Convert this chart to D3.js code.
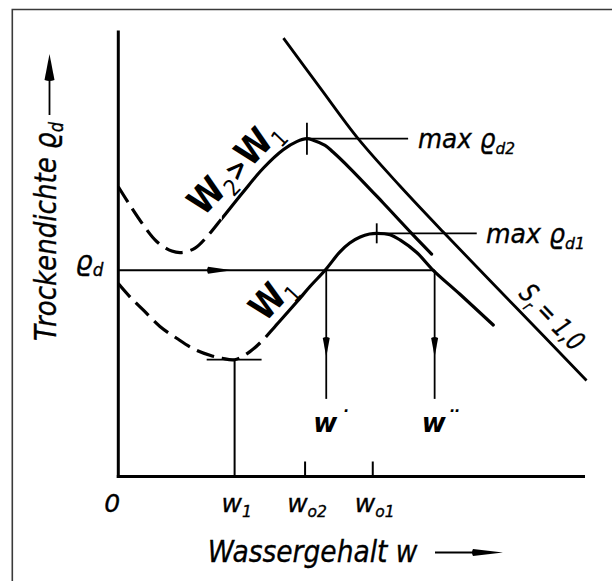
<!DOCTYPE html>
<html>
<head>
<meta charset="utf-8">
<script src="https://cdn.jsdelivr.net/npm/d3@7"></script>
<style>
  html, body { margin: 0; padding: 0; background: #fff; }
  svg { display: block; }
  text { font-family: "DejaVu Sans", "Liberation Sans", sans-serif; fill: #000; }
</style>
</head>
<body>
<svg id="chart" width="612" height="581"></svg>
<script>
// ---------------- data (w in %, rho_d in g/cm3) ----------------
// Proctor curve for the higher compaction work W2 > W1
const curveW2 = [[0,1.792],[0.50,1.767],[1.08,1.740],[1.65,1.718],[2.30,1.705],[2.73,1.703],[3.30,1.709],
  [3.80,1.724],[4.45,1.749],[5.37,1.785],[6.23,1.817],[7.09,1.842],[7.67,1.853],[8.11,1.857],[8.38,1.855],
  [8.89,1.848],[9.23,1.839],[9.96,1.817],[11.39,1.770],[12.61,1.729],[13.47,1.701]];
// Proctor curve for compaction work W1
const curveW1 = [[0,1.661],[0.50,1.643],[1.08,1.625],[1.79,1.603],[2.51,1.587],[3.22,1.573],[3.94,1.564],
  [4.46,1.560],[5.00,1.558],[5.66,1.569],[6.23,1.585],[6.74,1.603],[7.67,1.636],[8.24,1.657],[8.89,1.679],
  [9.53,1.704],[9.95,1.716],[10.40,1.724],[10.80,1.728],[11.11,1.729],[11.68,1.727],[12.11,1.720],[12.83,1.703],
  [13.54,1.679],[14.69,1.6465],[16.12,1.605]];
// saturation line S_r = 1.0
const saturationLine = [[7.10,1.993],[8.67,1.926],[10.31,1.857],[12.11,1.793],[13.96,1.731],[17.06,1.630],[20.13,1.530]];
// where the dashed (uncertain) part of each curve ends
const dashEndW2 = 4.45;
const dashEndW1 = 6.74;
// characteristic values
const peaks = [[8.11, 1.857, 12.46, "2"], [11.11, 1.729, 15.41, "1"]]; // w_opt, max rho_d, end of leader, index
const rhoD = 1.679;               // chosen dry density
const wPrime = [8.94, 13.60];     // w' and w'' at rhoD
const dropEnd = 1.505;            // lower end of the w'/w'' arrows
const dropTip = 1.5617;           // arrow tip position on the drop lines
const rhoArrowTip = 4.89;         // arrow tip on the rhoD line
const minPoint = [5.00, 1.558];   // minimum of the W1 curve (w1)
const minMarker = [3.80, 6.16];   // extent of the horizontal mark at the minimum
const xTickValues = [0, 5.00, 8.03, 10.94];
const xTickLabels = [["0", ""], ["w", "1"], ["w", "o2"], ["w", "o1"]];
const wPrimeLabels = [["w", "˙"], ["w", "¨"]];

// ---------------- scales ----------------
const svg = d3.select("#chart");
const x = d3.scaleLinear().domain([0, 20]).range([118.3, 583.5]);
const y = d3.scaleLinear().domain([1.40, 2.00]).range([476.5, 33]);

// ---------------- helpers ----------------
function rich(t, parts, size) {
  t.text(null);
  let shifted = 0;
  parts.forEach(p => {
    if (!p.t) return;
    const ts = t.append("tspan").text(p.t);
    let shift = 0;
    if (p.sub) shift = size * 0.22;
    if (p.sup) shift = -size * (p.supShift || 0.1);
    ts.attr("dy", shift - shifted);
    shifted = shift;
    if (p.sub) ts.attr("font-size", size * 0.62);
    if (p.size) ts.attr("font-size", p.size);
    if (p.weight) ts.attr("font-weight", p.weight);
  });
}
function label(o) {
  const g = svg.append("g").attr("transform", `translate(${o.x},${o.y}) rotate(${o.rot || 0})`);
  const t = g.append("text")
    .attr("text-anchor", o.anchor || "start")
    .attr("font-size", o.size)
    .attr("font-style", o.italic === false ? "normal" : "italic")
    .attr("font-weight", o.weight || "normal")
    .attr("stroke", "#000").attr("stroke-width", o.stroke == null ? 0.35 : o.stroke);
  rich(t, o.parts, o.size);
  if (o.width) {
    const w0 = t.node().getComputedTextLength();
    t.attr("transform", `scale(${o.width / w0},1)`);
  }
  return t;
}
function arrowHead(tx, ty, ang, len, hw) {
  svg.append("path")
    .attr("d", `M0,0L${-len},${-hw}Q${-len - 2},0 ${-len},${hw}Z`)
    .attr("transform", `translate(${tx},${ty}) rotate(${ang})`)
    .attr("fill", "#000");
}
function seg(x1, y1, x2, y2, w) {
  svg.append("line").attr("x1", x1).attr("y1", y1).attr("x2", x2).attr("y2", y2)
    .attr("stroke", "#000").attr("stroke-width", w);
}

// ---------------- frame ----------------
svg.append("path").attr("d", "M12.3,581V9.5H612").attr("fill", "none")
  .attr("stroke", "#3a3a3a").attr("stroke-width", 1.6);

// ---------------- axes ----------------
const gx = svg.append("g").attr("transform", `translate(0,${y(1.40)})`)
  .call(d3.axisBottom(x).tickValues(xTickValues).tickSizeInner(-15).tickSizeOuter(0).offset(0));
gx.select(".domain").attr("stroke", "#000").attr("stroke-width", 3).attr("stroke-linecap", "square");
gx.selectAll(".tick line").attr("stroke", "#000").attr("stroke-width", 2)
  .attr("display", (d, i) => i < 2 ? "none" : null);
gx.selectAll(".tick text")
  .attr("y", 35).attr("dy", null).attr("fill", "#000")
  .attr("font-size", 25).attr("font-style", "italic")
  .attr("font-family", "DejaVu Sans, sans-serif")
  .attr("stroke", "#000").attr("stroke-width", 0.35)
  .attr("transform", (d, i) => `translate(${i === 0 ? -6 : 2},0)`)
  .each(function (d, i) {
    rich(d3.select(this), [{ t: xTickLabels[i][0] }, { t: xTickLabels[i][1], sub: true }], 25);
  });

const gy = svg.append("g").attr("transform", `translate(${x(0)},0)`)
  .call(d3.axisLeft(y).tickValues([rhoD]).tickSizeInner(0).tickSizeOuter(0).tickPadding(15).offset(0));
gy.select(".domain").attr("stroke", "#000").attr("stroke-width", 3).attr("stroke-linecap", "square")
  .attr("d", `M0,${y(1.40)}V32`);
gy.selectAll(".tick line").remove();
gy.selectAll(".tick text")
  .attr("dy", 6).attr("fill", "#000").attr("font-size", 27).attr("font-style", "italic")
  .attr("font-family", "DejaVu Sans, sans-serif")
  .attr("stroke", "#000").attr("stroke-width", 0.35)
  .each(function () { rich(d3.select(this), [{ t: "ϱ" }, { t: "d", sub: true }], 27); });

// ---------------- curves ----------------
const line = d3.line().x(d => x(d[0])).y(d => y(d[1])).curve(d3.curveCatmullRom.alpha(0.5));
const defs = svg.append("defs");
function curve(data, dashEnd, id) {
  defs.append("clipPath").attr("id", id + "d").append("rect")
    .attr("x", 0).attr("y", 0).attr("width", x(dashEnd)).attr("height", 581);
  defs.append("clipPath").attr("id", id + "s").append("rect")
    .attr("x", x(dashEnd)).attr("y", 0).attr("width", 612).attr("height", 581);
  svg.append("path").datum(data).attr("d", line).attr("fill", "none").attr("stroke", "#000")
    .attr("stroke-width", 3.2).attr("stroke-dasharray", "18,8").attr("clip-path", `url(#${id}d)`);
  svg.append("path").datum(data).attr("d", line).attr("fill", "none").attr("stroke", "#000")
    .attr("stroke-width", 3.2).attr("stroke-linecap", "round").attr("clip-path", `url(#${id}s)`);
}
curve(curveW2, dashEndW2, "c2");
curve(curveW1, dashEndW1, "c1");

svg.append("path").datum(saturationLine).attr("d", line).attr("fill", "none")
  .attr("stroke", "#000").attr("stroke-width", 2.8);

// ---------------- annotations ----------------
// peaks
peaks.forEach((p, i) => {
  const h = i === 0 ? 16 : 10;
  seg(x(p[0]), y(p[1]) - h, x(p[0]), y(p[1]) + h, 1.8);
  seg(x(p[0]), y(p[1]), x(p[2]), y(p[1]), 1.8);
});
// rhoD line with arrow
seg(x(0), y(rhoD), x(wPrime[1]), y(rhoD), 1.8);
arrowHead(x(rhoArrowTip), y(rhoD), 0, 24, 3.5);
// drop lines to w' and w''
wPrime.forEach(w => {
  seg(x(w), y(rhoD), x(w), y(dropEnd), 1.8);
  arrowHead(x(w), y(dropTip), 90, 19, 3.5);
});
// minimum marker (w1)
seg(x(minMarker[0]), y(minPoint[1]), x(minMarker[1]), y(minPoint[1]), 1.8);
seg(x(minPoint[0]), y(minPoint[1]), x(minPoint[0]), y(1.40), 2);

// ---------------- labels ----------------
label({ x: 56, y: 341, rot: -90, size: 31, width: 219,
  parts: [{ t: "Trockendichte " }, { t: "ϱ" }, { t: "d", sub: true }] });
seg(49.5, 115, 49.5, 70, 1.8);
arrowHead(49.5, 54, -90, 26, 5);

label({ x: 207.7, y: 562, size: 31, width: 210, parts: [{ t: "Wassergehalt w" }] });
seg(435, 552.5, 480, 552.5, 1.8);
arrowHead(503, 552.5, 0, 30, 3.5);

peaks.forEach((p, i) => {
  label({ x: i === 0 ? 418 : 486, y: i === 0 ? 148 : 243, size: 26, width: i === 0 ? 97 : 99,
    parts: [{ t: "max " }, { t: "ϱ" }, { t: "d" + p[3], sub: true }] });
});

wPrime.forEach((w, i) => {
  label({ x: x(w) - 13, y: 431.5, size: 26, weight: "bold", stroke: 0,
    parts: [{ t: wPrimeLabels[i][0] }, { t: wPrimeLabels[i][1], sup: true, supShift: 0.05, weight: "normal" }] });
});

label({ x: 243.5, y: 175.5, rot: -46, anchor: "middle", size: 37, width: 116, italic: false, weight: "bold", stroke: 0,
  parts: [{ t: "W" }, { t: "2", sub: true, weight: "normal" }, { t: ">", size: 28, weight: "bold" },
          { t: "W" }, { t: "1", sub: true, weight: "normal" }] });
label({ x: 281, y: 306, rot: -47, anchor: "middle", size: 37, width: 46, italic: false, weight: "bold", stroke: 0,
  parts: [{ t: "W" }, { t: "1", sub: true, weight: "normal" }] });
label({ x: 545.4, y: 323.6, rot: 46, anchor: "middle", size: 27, width: 80,
  parts: [{ t: "S" }, { t: "r", sub: true }, { t: " = 1,0" }] });
</script>
</body>
</html>
